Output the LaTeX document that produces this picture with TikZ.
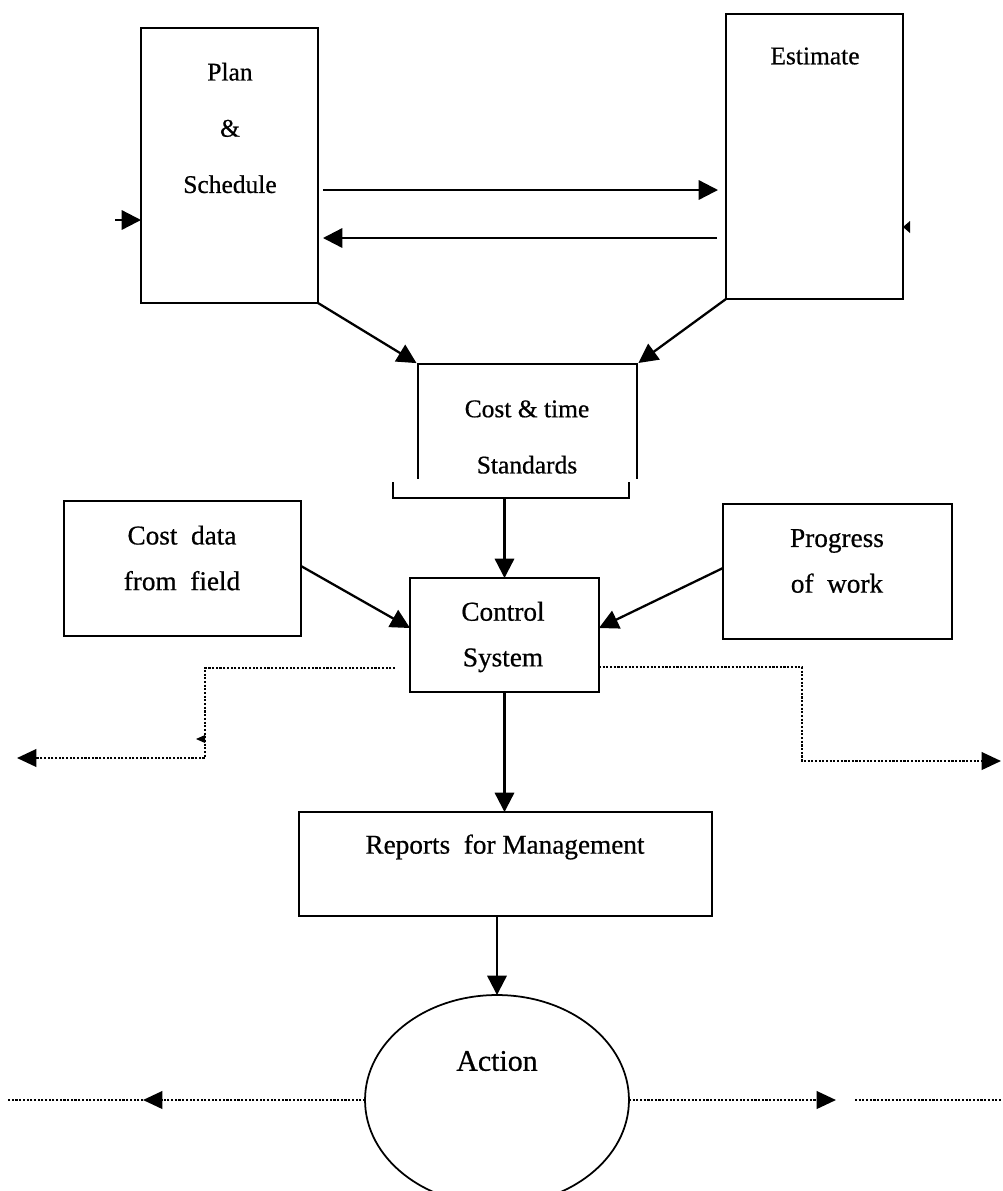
\documentclass[tikz,border=0pt]{standalone}
\usepackage{fontspec}
\setmainfont{Liberation Serif}[FakeBold=0.6]
\usetikzlibrary{arrows.meta,shapes.geometric,calc}
\begin{document}
\begin{tikzpicture}[x=0.02cm,y=-0.02cm,
  box/.style={draw, line width=1.2pt, inner sep=0pt, outer sep=0pt},
  ghost/.style={inner sep=0pt, outer sep=0pt},
  txt/.style={align=center, inner sep=0pt},
  arr/.style={line width=1.3pt, -{Triangle[length=11pt,width=11pt]}},
  dots/.style={line width=1.2pt, dash pattern=on 1.2pt off 0.9pt},
  darr/.style={dots, -{Triangle[length=11pt,width=10pt]}}]
\useasboundingbox (0,0) rectangle (1002,1191);

% boxes
\node[box, minimum width=3.54cm, minimum height=5.5cm] (plan) at (229.5,165.5) {};
\node[box, minimum width=3.54cm, minimum height=5.7cm] (est) at (814.5,156.5) {};
\node[ghost, minimum width=4.38cm, minimum height=2.3cm] (cts) at (527.5,421.5) {};
\draw[line width=1.2pt] (cts.south west) -- (cts.north west) -- (cts.north east) -- (cts.south east);
\coordinate (brA) at (393,482);
\coordinate (brB) at (393,498);
\coordinate (brC) at (629,498);
\coordinate (brD) at (629,482);
\coordinate (brM) at (504.5,498);
\draw[line width=1.2pt] (brA) -- (brB) -- (brC) -- (brD);
\node[box, minimum width=4.74cm, minimum height=2.7cm] (cdata) at (182.5,568.5) {};
\node[box, minimum width=3.78cm, minimum height=2.28cm] (ctrl) at (504.5,635) {};
\node[box, minimum width=4.58cm, minimum height=2.7cm] (prog) at (837.5,571.5) {};
\node[box, minimum width=8.26cm, minimum height=2.08cm] (rep) at (505.5,864) {};
\node[draw, line width=1pt, ellipse, inner sep=0pt, outer sep=0pt, minimum width=5.28cm, minimum height=4.2cm] (act) at (497,1100) {};

% texts
\node[txt, font=\fontsize{14.5}{32}\selectfont] (plant) at (230,128) {Plan\\\&\\Schedule};
\node[txt, font=\fontsize{14.5}{32}\selectfont] (estt) at (815,56) {Estimate};
\node[txt, font=\fontsize{14.5}{32}\selectfont] (ctst) at (527,437) {Cost \& time\\Standards};
\node[txt, font=\fontsize{15.5}{26}\selectfont] (cdatat) at (182,558) {Cost\ \ data\\from\ \ field};
\node[txt, font=\fontsize{15.5}{26}\selectfont] (progt) at (837,561) {Progress\\of\ \ work};
\node[txt, font=\fontsize{15.5}{26}\selectfont] (ctrlt) at (503,637) {Control\\System};
\node[txt, font=\fontsize{15.5}{26}\selectfont] (rept) at (505,847) {Reports\ \ for Management};
\node[txt, font=\fontsize{17}{26}\selectfont] (actt) at (497,1061) {Action};

% connectors
\coordinate (inP) at (115,220);
\draw[arr] (inP) -- (plan.west |- 0,220);
\draw[arr, shorten <=0.1cm, shorten >=0.16cm] (plan.east |- 0,190) -- (est.west |- 0,190);
\draw[arr, shorten <=0.18cm, shorten >=0.1cm] (est.west |- 0,238) -- (plan.east |- 0,238);
\fill (est.east |- 0,227) -- (910,221) -- (910,233) -- cycle;
\draw[arr, shorten >=1pt] (plan.south east) -- (cts.north west);
\draw[arr, shorten >=1pt] (est.south west) -- (cts.north east);
\draw[arr] (brM) -- (ctrl.north);
\draw[arr] (cdata.east |- 0,566) -- (ctrl.west |- 0,628);
\draw[arr] (prog.west |- 0,568) -- (ctrl.east |- 0,628);
\draw[arr] (ctrl.south) -- (ctrl.south |- rep.north);
\draw[arr] (act.north |- rep.south) -- (act.north);

% dotted feedback lines
\coordinate (dl0) at (395,668);
\coordinate (dl3) at (17,758);
\draw[darr] (dl0) -- (205,668) -- (205,758) -- (dl3);
\fill (196,739) -- (205,735) -- (205,743) -- cycle;
\coordinate (dr3) at (1001,761);
\draw[darr] (ctrl.east |- 0,667) -- (802,667) -- (802,761) -- (dr3);

\coordinate (al) at (143,1100);
\coordinate (al2) at (8,1100);
\draw[darr] (act.west) -- (al);
\draw[dots] (al) -- (al2);
\coordinate (ar) at (836,1100);
\coordinate (ar2) at (855,1100);
\coordinate (ar3) at (1002,1100);
\draw[darr] (act.east) -- (ar);
\draw[dots] (ar2) -- (ar3);
\end{tikzpicture}
\end{document}
